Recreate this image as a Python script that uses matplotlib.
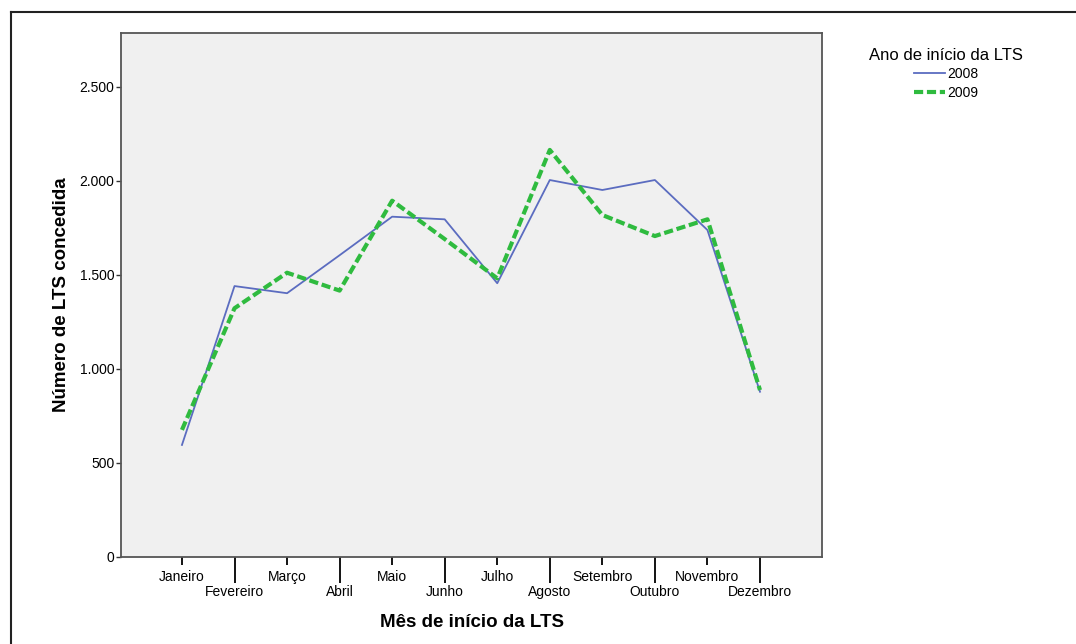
import matplotlib.pyplot as plt
from matplotlib.lines import Line2D
from matplotlib.ticker import FuncFormatter

meses = ["Janeiro", "Fevereiro", "Março", "Abril", "Maio", "Junho",
         "Julho", "Agosto", "Setembro", "Outubro", "Novembro", "Dezembro"]
lts_2008 = [596, 1441, 1403, 1605, 1810, 1796, 1456, 2005, 1952, 2005, 1739, 879]
lts_2009 = [676, 1323, 1512, 1417, 1895, 1691, 1482, 2165, 1819, 1707, 1796, 888]

plt.rcParams['font.family'] = ['Liberation Sans', 'DejaVu Sans']

fig = plt.figure(figsize=(10.76, 6.44), dpi=100)
W, H = 1076, 644
px = 72 / 100  # points per pixel
ax = fig.add_axes([121 / W, 1 - 557 / H, (822 - 121) / W, (557 - 33) / H])
ax.set_facecolor('#f0f0f0')

x = list(range(len(meses)))
ax.plot(x, lts_2008, color='#5b6cc0', lw=1.3, label='2008')
ax.plot(x, lts_2009, color='#2fbb3f', lw=3.0, ls=(0, (2.2, 0.9)), label='2009')

ax.set_xlim(-1.16, 12.18)
ax.set_ylim(0, 2787)
ax.set_yticks([0, 500, 1000, 1500, 2000, 2500])
ax.yaxis.set_major_formatter(FuncFormatter(lambda v, p: f"{int(v):,}".replace(",", ".")))
ax.tick_params(axis='y', length=5 * px, width=1, labelsize=10, pad=1, color='#333333')

# meses alternados: pares em cima, ímpares em baixo com traço mais longo
ax.set_xticks(x[0::2])
ax.set_xticklabels(meses[0::2])
ax.set_xticks(x[1::2], minor=True)
ax.set_xticklabels(meses[1::2], minor=True)
ax.tick_params(axis='x', which='major', length=8 * px, width=1.3, labelsize=10, pad=3.5)
ax.tick_params(axis='x', which='minor', length=26 * px, width=1.3, labelsize=10, pad=1.5)

for s in ax.spines.values():
    s.set_color('#555555')
    s.set_linewidth(1.3)

ax.set_ylabel('Número de LTS concedida', fontsize=13.5, fontweight='bold', labelpad=7)
ax.set_xlabel('Mês de início da LTS', fontsize=13.5, fontweight='bold', labelpad=10.5)

leg = fig.legend(loc='upper center', bbox_to_anchor=(946 / W, 1 - 35 / H),
                 title='Ano de início da LTS', fontsize=10, title_fontsize=12,
                 frameon=False, handlelength=2.2, handletextpad=0.15,
                 labelspacing=0.35)

# moldura externa (só topo e esquerda)
fig.add_artist(Line2D([11 / W, 1], [1 - 12 / H, 1 - 12 / H], color='#222222', lw=1.5))
fig.add_artist(Line2D([11 / W, 11 / W], [0, 1 - 12 / H], color='#222222', lw=1.5))

fig.savefig('out.png', dpi=100)
